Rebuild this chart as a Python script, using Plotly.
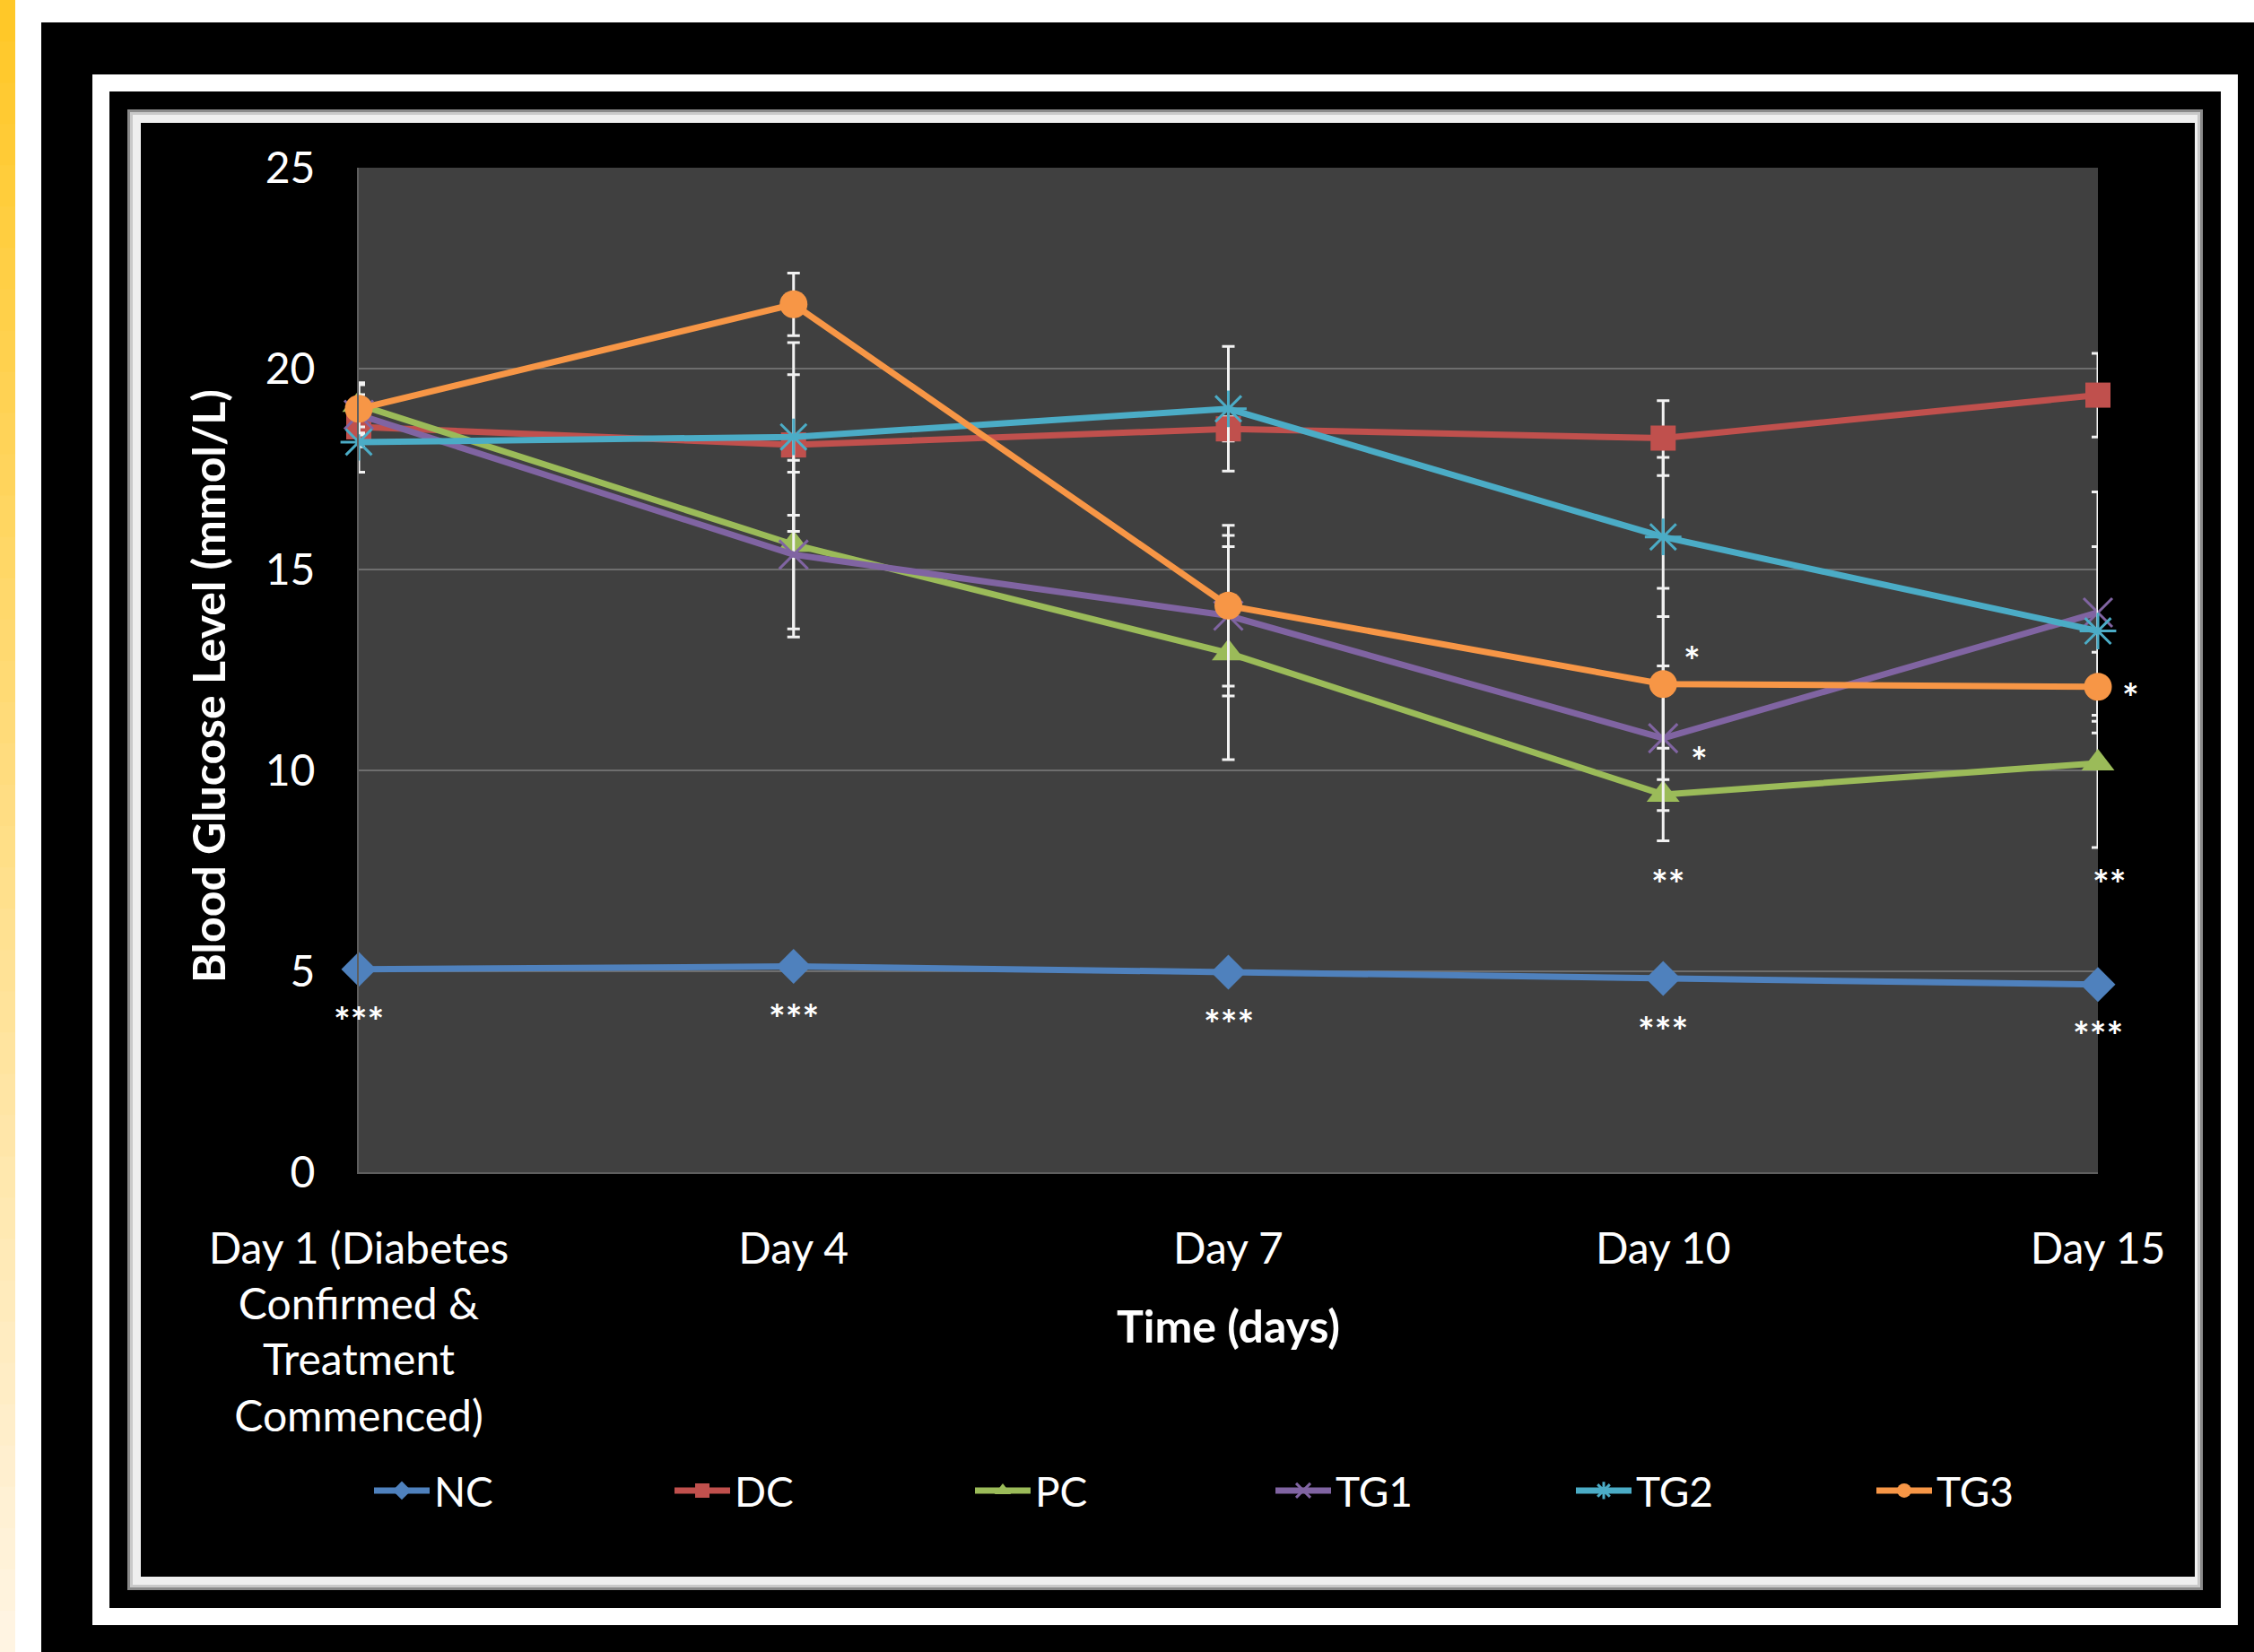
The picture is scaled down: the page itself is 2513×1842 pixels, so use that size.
import plotly.graph_objects as go

# ---- data -------------------------------------------------------------
days = [
    "Day 1 (Diabetes<br>Confirmed &<br>Treatment<br>Commenced)",
    "Day 4", "Day 7", "Day 10", "Day 15",
]
groups = ["NC", "DC", "PC", "TG1", "TG2", "TG3"]

nc = [5.05, 5.12, 4.98, 4.82, 4.67]
dc = [18.55, 18.10, 18.50, 18.27, 19.34]
pc = [19.10, 15.62, 12.92, 9.40, 10.18]
tg1 = [18.85, 15.37, 13.85, 10.80, 13.93]
tg2 = [18.17, 18.30, 19.00, 15.81, 13.47]
tg3 = [19.00, 21.60, 14.10, 12.15, 12.08]

nc_err = [0.15, 0.15, 0.15, 0.15, 0.15]
dc_err = [0.50, 1.75, 0.30, 0.93, 1.04]
pc_err = [0.55, 2.10, 2.65, 1.15, 2.10]
tg1_err = [0.50, 2.05, 2.00, 1.80, 3.00]
tg2_err = [0.75, 2.35, 1.55, 1.98, 2.10]
tg3_err = [0.60, 0.78, 2.00, 2.38, 0.86]

# significance marks: (day index, level, text, horizontal nudge in px)
sig_marks = [
    (0, 4.02, "***", 0), (1, 4.08, "***", 0), (2, 3.95, "***", 0),
    (3, 3.77, "***", 0), (4, 3.66, "***", 0),
    (3, 7.43, "**", 5), (4, 7.43, "**", 12),
    (3, 13.0, "*", 32), (3, 10.5, "*", 40), (4, 12.07, "*", 36),
]

series = [
    ("NC", nc, nc_err, "#4F81BD", "diamond", 30, None),
    ("DC", dc, dc_err, "#C0504D", "square", 28, None),
    ("PC", pc, pc_err, "#9BBB59", "triangle-up", 32, None),
    ("TG1", tg1, tg1_err, "#8064A2", "x-thin-open", 32, 3),
    ("TG2", tg2, tg2_err, "#4BACC6", "asterisk-open", 34, 3),
    ("TG3", tg3, tg3_err, "#F79646", "circle", 31, None),
]

# ---- page geometry (pixels) ------------------------------------------
W, H = 2513, 1842
PL, PR, PT, PB = 400, 2339, 187, 1307
FONT = "Lato"


def fx(x):
    return (x - PL) / (PR - PL)


def fy(y):
    return (PB - y) / (PB - PT)


def rect(x0, y0, x1, y1, color):
    return dict(type="rect", xref="paper", yref="paper",
                x0=fx(x0), x1=fx(x1), y0=fy(y1), y1=fy(y0),
                fillcolor=color, line=dict(width=0), layer="below")


shapes = []
# yellow strip on the left edge, fading downwards
top_rgb = (255, 200, 40)
bot_rgb = (255, 244, 226)
n_bands = 40
for i in range(n_bands):
    t = i / (n_bands - 1)
    c = tuple(round(a + (b - a) * t) for a, b in zip(top_rgb, bot_rgb))
    y0 = H * i / n_bands
    y1 = H * (i + 1) / n_bands + 1
    shapes.append(rect(0, y0, 17, y1, "rgb(%d,%d,%d)" % c))

# black mount, white frame, bevelled inner frame
shapes.append(rect(46, 25, W, H, "#000000"))
shapes.append(rect(103, 83, 2495, 1812, "#ffffff"))
shapes.append(rect(122, 102, 2476, 1793, "#000000"))
shapes.append(rect(142, 122, 2456, 1773, "#8a8a8a"))
shapes.append(rect(145, 125, 2453, 1770, "#c9c9c9"))
shapes.append(rect(148, 128, 2450, 1767, "#efefef"))
shapes.append(rect(157, 137, 2447, 1758, "#000000"))
# plot area
shapes.append(rect(PL, PT, PR, PB, "#404040"))

fig = go.Figure()
x_idx = list(range(len(days)))
for name, vals, errs, col, sym, size, lw in series:
    marker = dict(symbol=sym, size=size, color=col,
                  line=dict(color=col, width=lw or 0))
    fig.add_trace(go.Scatter(
        x=x_idx, y=vals, name=name, mode="lines+markers",
        line=dict(color=col, width=7),
        marker=marker,
        error_y=dict(type="data", array=errs, visible=True,
                     color="#f2f2f2", thickness=3, width=7),
        cliponaxis=False,
    ))

annotations = []
for xi, yv, txt, dx in sig_marks:
    annotations.append(dict(
        x=xi, y=yv, xref="x", yref="y", text="<b>%s</b>" % txt, showarrow=False,
        xshift=dx, yshift=-11, font=dict(family=FONT, size=44, color="white"),
        xanchor="center", yanchor="middle",
    ))

# axis titles
annotations.append(dict(
    x=fx(232), y=fy(765), xref="paper", yref="paper",
    text="<b>Blood Glucose Level (mmol/L)</b>", textangle=-90,
    showarrow=False, font=dict(family=FONT, size=50, color="white"),
    xanchor="center", yanchor="middle",
))
annotations.append(dict(
    x=fx(1369), y=fy(1478), xref="paper", yref="paper",
    text="<b>Time (days)</b>", showarrow=False,
    font=dict(family=FONT, size=50, color="white"),
    xanchor="center", yanchor="middle",
))

fig.update_layout(
    width=W, height=H, autosize=False,
    margin=dict(l=PL, r=W - PR, t=PT, b=H - PB, pad=0, autoexpand=False),
    paper_bgcolor="#ffffff", plot_bgcolor="rgba(0,0,0,0)",
    shapes=shapes, annotations=annotations,
    showlegend=True,
    legend=dict(
        orientation="h", x=fx(399), y=fy(1662), xanchor="left", yanchor="middle",
        font=dict(family=FONT, size=46, color="white"),
        bgcolor="rgba(0,0,0,0)", itemwidth=62, indentation=13,
        entrywidth=245, entrywidthmode="pixels",
    ),
    xaxis=dict(
        range=[0, len(days) - 1], tickmode="array", tickvals=x_idx, ticktext=days,
        showgrid=False, zeroline=False, showline=True, linecolor="#5e5e5e",
        linewidth=2, ticks="", ticklabelstandoff=42,
        tickfont=dict(family=FONT, size=48, color="white"),
    ),
    yaxis=dict(
        range=[0, 25], tickmode="array", tickvals=[0, 5, 10, 15, 20, 25],
        showgrid=True, gridcolor="#6e6e6e", gridwidth=2, zeroline=False,
        showline=True, linecolor="#5e5e5e", linewidth=2, ticks="",
        ticklabelstandoff=37,
        tickfont=dict(family=FONT, size=48, color="white"),
    ),
)

fig.write_html("out.html")
